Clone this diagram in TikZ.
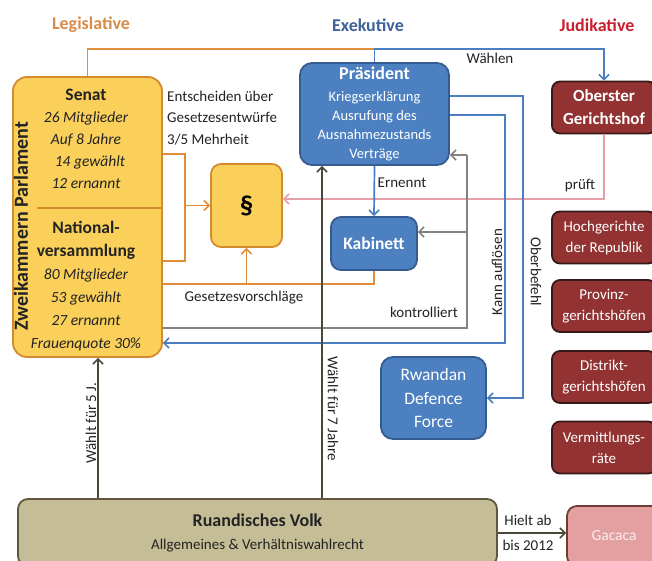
\documentclass[tikz,border=0pt]{standalone}
\usepackage{fontspec}
\setmainfont{Carlito}
\usetikzlibrary{arrows.meta}
\definecolor{orl}{RGB}{224,140,56}
\definecolor{yelfill}{RGB}{250,208,90}
\definecolor{yelbord}{RGB}{214,138,48}
\definecolor{legt}{RGB}{215,140,75}
\definecolor{blfill}{RGB}{77,128,192}
\definecolor{blbord}{RGB}{52,92,145}
\definecolor{blline}{RGB}{74,126,193}
\definecolor{exet}{RGB}{60,98,150}
\definecolor{rdfill}{RGB}{146,50,50}
\definecolor{rdbord}{RGB}{55,25,25}
\definecolor{judt}{RGB}{200,30,45}
\definecolor{pkline}{RGB}{230,160,168}
\definecolor{gcfill}{RGB}{228,160,160}
\definecolor{gcbord}{RGB}{110,60,55}
\definecolor{gcText}{RGB}{250,235,235}
\definecolor{grline}{RGB}{130,130,130}
\definecolor{tanfill}{RGB}{197,189,150}
\definecolor{tanbord}{RGB}{95,88,62}
\definecolor{vkline}{RGB}{72,72,56}
\definecolor{txt}{RGB}{35,35,35}
\tikzset{
  box/.style={draw, line width=1.8pt, align=center, inner sep=0pt, rounded corners=10pt},
  yelbox/.style={box, fill=yelfill, draw=yelbord},
  bluebox/.style={box, fill=blfill, draw=blbord, text=white},
  redbox/.style={box, fill=rdfill, draw=rdbord, text=white, font=\fontsize{15}{21}\selectfont, minimum width=104pt, minimum height=52pt, rounded corners=8pt},
  lbl/.style={text=txt, inner sep=0pt, font=\fontsize{15}{21.5}\selectfont},
  conn/.style={line width=1.7pt},
  tip/.style={-{Straight Barb[length=5pt,width=10pt,line width=1.6pt]}},
  orc/.style={conn, draw=orl},
  blc/.style={conn, draw=blline},
  grc/.style={conn, draw=grline},
  pkc/.style={conn, draw=pkline},
  vkc/.style={conn, draw=vkline},
  title/.style={font=\fontsize{18}{20}\selectfont\bfseries, inner sep=0pt}
}
\begin{document}
\begin{tikzpicture}[x=1pt, y=-1pt]
\useasboundingbox (0,0) rectangle (652,560);
\clip (0,0) rectangle (652,560);
\fill[white] (0,0) rectangle (652,560);

% titles
\node[title, text=legt] (tleg) at (91,25) {Legislative};
\node[title, text=exet] (texe) at (368,25) {Exekutive};
\node[title, text=judt] (tjud) at (597,25) {Judikative};

% parliament
\node[yelbox, minimum width=149pt, minimum height=280pt, rounded corners=14pt] (parl) at (87.5,217) {};
\node[inner sep=0pt, align=center, font=\fontsize{15.5}{22}\selectfont\itshape, text=txt] (senat) at (86,139)
  {{\upshape\bfseries\fontsize{17.5}{22}\selectfont Senat}\\26 Mitglieder\\Auf 8 Jahre\\\hspace{8pt}14 gewählt\\12 ernannt};
\node[inner sep=0pt, align=center, font=\fontsize{15.5}{23}\selectfont\itshape, text=txt] (natv) at (86,286)
  {{\upshape\bfseries\fontsize{17.5}{23}\selectfont National-}\\{\upshape\bfseries\fontsize{17.5}{23}\selectfont versammlung}\\80 Mitglieder\\53 gewählt\\27 ernannt\\Frauenquote 30\%};
\node[inner sep=0pt, rotate=90, font=\fontsize{20}{22}\selectfont\bfseries, text=txt] (zwk) at (21,226) {Zweikammern Parlament};
\coordinate (dv) at (37,208);
\draw[line width=1.7pt, draw=yelbord] (dv) -- (dv -| parl.east);

% paragraph box
\node[yelbox, minimum width=71pt, minimum height=83pt] (para) at (246.5,205.5) {\fontsize{27}{28}\selectfont\bfseries §};

% executive
\node[bluebox, minimum width=149pt, minimum height=102pt, font=\fontsize{14.5}{19}\selectfont, rounded corners=12pt] (pres) at (374.5,114)
  {{\bfseries\fontsize{18}{19}\selectfont Präsident}\\[3pt]Kriegserklärung\\Ausrufung des\\Ausnahmezustands\\Verträge};
\node[bluebox, minimum width=86pt, minimum height=53pt, font=\fontsize{17.5}{20}\selectfont\bfseries] (kab) at (374,243.5) {Kabinett};
\node[bluebox, minimum width=105pt, minimum height=82pt, font=\fontsize{17.5}{23.5}\selectfont, rounded corners=12pt] (rdf) at (433.5,398) {Rwandan\\Defence\\Force};

% judiciary
\node[redbox, font=\fontsize{17}{23}\selectfont\bfseries] (ogh) at (604,107.5) {Oberster\\Gerichtshof};
\node[redbox] (hoch) at (604,237.5) {Hochgerichte\\der Republik};
\node[redbox] (prov) at (604,306) {Provinz-\\gerichtshöfen};
\node[redbox] (dist) at (604,377) {Distrikt-\\gerichtshöfen};
\node[redbox] (verm) at (604,447.5) {Vermittlungs-\\räte};

% people
\node[box, fill=tanfill, draw=tanbord, minimum width=479pt, minimum height=67pt, text=txt, font=\fontsize{15}{23}\selectfont] (volk) at (257.5,532.5)
  {{\bfseries\fontsize{18}{23}\selectfont Ruandisches Volk}\\Allgemeines \& Verhältniswahlrecht};
\node[box, fill=gcfill, draw=gcbord, minimum width=94pt, minimum height=60pt, text=gcText, font=\fontsize{15.5}{18}\selectfont] (gac) at (614,536) {Gacaca};

% coordinates
\coordinate (top) at (0,49);
\coordinate (s1) at (185,154);
\coordinate (s2) at (185,261);
\coordinate (g1) at (0,284);
\coordinate (k1) at (0,328);
\coordinate (k2) at (467,155);
\coordinate (ka) at (0,232);
\coordinate (a1) at (0,115);
\coordinate (a2) at (505,343);
\coordinate (o1) at (0,96);
\coordinate (o2) at (523,398);
\coordinate (prf) at (0,199);
\coordinate (v1) at (98,0);
\coordinate (v2) at (322,0);
\coordinate (gc) at (0,533);

% connectors
\draw[orc] (parl.north) |- (pres.north |- top);
\draw[blc, tip] (pres.north) |- (top -| ogh.north) -- (ogh.north);
\draw[pkc, tip] (ogh.south) |- (para.east |- prf);
\draw[orc] (parl.east |- s1) -- (s1) -- (s2) -- (parl.east |- s2);
\draw[orc, tip] (s1 |- para.west) -- (para.west);
\draw[orc] (parl.east |- g1) -| (kab.south);
\draw[orc, tip] (g1 -| para.south) -- (para.south);
\draw[blc, tip] (pres.south) -- (kab.north);
\draw[grc] (parl.east |- k1) -| (k2);
\draw[grc, tip] (k2) -- (pres.east |- k2);
\draw[grc, tip] (ka -| k2) -- (kab.east |- ka);
\draw[blc, tip] (pres.east |- a1) -| (a2) -- (parl.east |- a2);
\draw[blc, tip] (pres.east |- o1) -| (o2) -- (rdf.east |- o2);
\draw[vkc, tip] (volk.north -| v1) -- (parl.south -| v1);
\draw[vkc, tip] (volk.north -| v2) -- (pres.south -| v2);
\draw[vkc, tip] (volk.east |- gc) -- (gac.west |- gc);

% labels
\node[lbl, anchor=west, align=left] (lent) at (167,118) {Entscheiden über\\Gesetzesentwürfe\\3/5 Mehrheit};
\node[lbl] (lwah) at (490,58) {Wählen};
\node[lbl] (lern) at (402,183) {Ernennt};
\node[lbl] (lpru) at (580,186) {prüft};
\node[lbl] (lges) at (244,298) {Gesetzesvorschläge};
\node[lbl] (lkon) at (424,312) {kontrolliert};
\node[lbl, rotate=90] (lkan) at (497,272) {Kann auflösen};
\node[lbl, rotate=-90] (lobe) at (536,272) {Oberbefehl};
\node[lbl, rotate=90] (lw5) at (91,423) {Wählt für 5 J.};
\node[lbl, rotate=-90] (lw7) at (333,409) {Wählt für 7 Jahre};
\node[lbl, align=center, font=\fontsize{15}{25}\selectfont] (lhie) at (528,533) {Hielt ab\\bis 2012};
\end{tikzpicture}
\end{document}
